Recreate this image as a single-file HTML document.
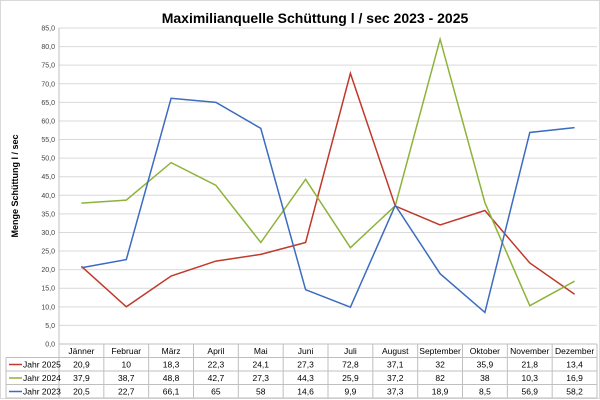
<!DOCTYPE html>
<html><head><meta charset="utf-8"><style>
body{margin:0;background:#fff;}
svg{display:block;font-family:"Liberation Sans",sans-serif;}
</style></head><body>
<svg id="s" width="600" height="400" xmlns="http://www.w3.org/2000/svg">
<rect x="0.5" y="0.5" width="599" height="398" fill="#fff" stroke="#d9d9d9"/>
<text x="315" y="23" text-anchor="middle" font-size="14" font-weight="bold" fill="#000">Maximilianquelle Schüttung l / sec 2023 - 2025</text>
<text transform="translate(18,186) rotate(-90)" text-anchor="middle" font-size="9" font-weight="bold">Menge Schüttung l / sec</text>
<g id="g"></g>
</svg>
<script>
const g=document.getElementById('g');
const L=59,R=597,Y0=344,Y85=28,cw=(R-L)/12;
const y=v=>Y0-(Y0-Y85)*v/85;
let h='';
for(let i=0;i<=17;i++){const v=i*5,yy=y(v);
 h+=`<line x1="${L}" x2="${R}" y1="${yy}" y2="${yy}" stroke="#d9d9d9"/>`;
 h+=`<text x="${L-4}" y="${yy+2.5}" text-anchor="end" font-size="7" fill="#404040">${v.toFixed(1).replace('.',',')}</text>`;}
h+=`<line x1="${L}" x2="${L}" y1="${Y85}" y2="${Y0}" stroke="#bfbfbf"/>`;
const months=['Jänner','Februar','März','April','Mai','Juni','Juli','August','September','Oktober','November','Dezember'];
const data=[
['Jahr 2025','#c0392b',[20.9,10,18.3,22.3,24.1,27.3,72.8,37.1,32,35.9,21.8,13.4]],
['Jahr 2024','#8db33a',[37.9,38.7,48.8,42.7,27.3,44.3,25.9,37.2,82,38,10.3,16.9]],
['Jahr 2023','#3b6cc0',[20.5,22.7,66.1,65,58,14.6,9.9,37.3,18.9,8.5,56.9,58.2]]];
// table
const rows=[344,357.5,371,384.5,398];
for(const r of rows) h+=`<line x1="${r==344?L:6}" x2="${R}" y1="${r}" y2="${r}" stroke="#bfbfbf"/>`;
h+=`<line x1="6" x2="6" y1="357.5" y2="398" stroke="#bfbfbf"/>`;
for(let i=0;i<=12;i++){const x=L+i*cw;h+=`<line x1="${x}" x2="${x}" y1="344" y2="398" stroke="#bfbfbf"/>`;}
months.forEach((m,i)=>{h+=`<text x="${L+(i+.5)*cw}" y="354" text-anchor="middle" font-size="8.5">${m}</text>`;});
data.forEach((d,k)=>{const ty=rows[k+1]+10;
 h+=`<line x1="9" x2="22" y1="${ty-3}" y2="${ty-3}" stroke="${d[1]}" stroke-width="1.5"/>`;
 h+=`<text x="23" y="${ty}" font-size="8.5">${d[0]}</text>`;
 d[2].forEach((v,i)=>{h+=`<text x="${L+(i+.5)*cw}" y="${ty}" text-anchor="middle" font-size="8.5">${String(v).replace('.',',')}</text>`;});
});
// lines
data.forEach(d=>{const p=d[2].map((v,i)=>`${(L+(i+.5)*cw).toFixed(1)},${y(v).toFixed(1)}`).join(' ');
 h+=`<polyline points="${p}" fill="none" stroke="${d[1]}" stroke-width="1.5"/>`;});
g.innerHTML=h;
</script>
</body></html>
